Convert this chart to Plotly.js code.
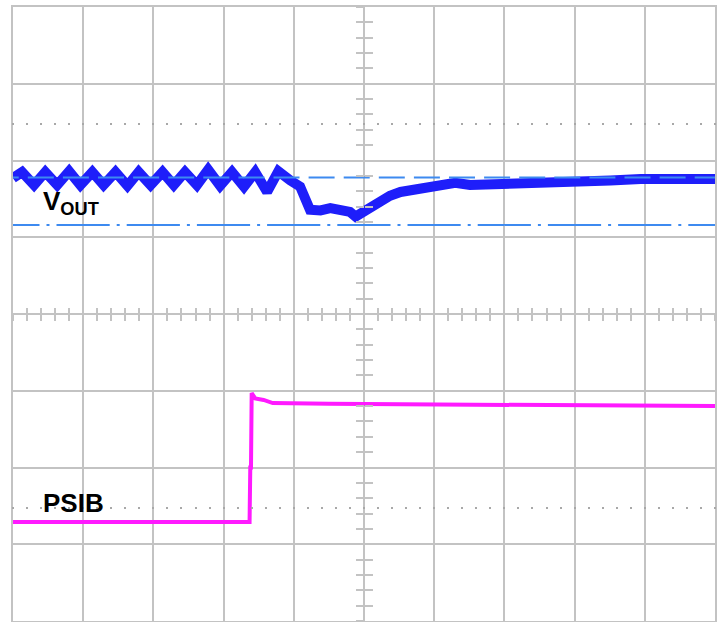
<!DOCTYPE html>
<html>
<head>
<meta charset="utf-8">
<script src="https://cdn.plot.ly/plotly-3.0.1.min.js"></script>
<style>html,body{margin:0;padding:0;background:#fff;}#chart{width:724px;height:622px;}</style>
</head>
<body>
<div id="chart"></div>
<script>
// time in divisions (10 div across), level in divisions (8 div tall)
const voutTime = [0.00, 0.13, 0.30, 0.46, 0.63, 0.80, 0.96, 1.13, 1.29, 1.46, 1.63, 1.79, 1.96, 2.13, 2.29, 2.45, 2.62, 2.78, 2.95, 3.12, 3.29, 3.45, 3.62, 3.78,
  3.95, 4.09, 4.23, 4.38, 4.52, 4.66, 4.80, 4.88, 4.95, 5.09, 5.23, 5.37, 5.52, 5.66, 5.80, 5.94, 6.30, 6.51, 6.94, 7.37, 7.80, 8.22, 8.51, 8.94, 9.51, 10.00];
const voutLevel = [5.77, 5.85, 5.68, 5.85, 5.68, 5.86, 5.68, 5.85, 5.68, 5.85, 5.67, 5.85, 5.68, 5.85, 5.68, 5.85, 5.68, 5.88, 5.67, 5.85, 5.66, 5.85, 5.59, 5.86,
  5.74, 5.66, 5.36, 5.35, 5.38, 5.37, 5.33, 5.27, 5.31, 5.40, 5.47, 5.54, 5.59, 5.61, 5.62, 5.65, 5.71, 5.68, 5.69, 5.69, 5.71, 5.72, 5.74, 5.76, 5.76, 5.76];

const psibTime = [0.00, 3.37, 3.38, 3.39, 3.40, 3.45, 3.57, 3.70, 4.50, 6.00, 8.00, 10.00];
const psibLevel = [1.29, 1.29, 2.00, 2.00, 2.97, 2.90, 2.88, 2.84, 2.83, 2.82, 2.81, 2.80];

const refTime = [0, 10];
const refHigh = [5.78, 5.78];
const refLow = [5.16, 5.16];

const psibMarkerTime = [-0.02];
const psibMarkerLevel = [2.19];

const labels = [
  {text: "<b>V<sub>OUT</sub></b>", x: 0.40, y: 5.45},
  {text: "<b>PSIB</b>", x: 0.40, y: 1.54}
];

const GRID = "#c3c3c3";
const BLUE = "#1e1efa";
const MAGENTA = "#ff1aff";
const REF = "#3d8af0";

const traces = [
  {x: voutTime, y: voutLevel, mode: "lines", line: {color: BLUE, width: 10}, hoverinfo: "skip", showlegend: false},
  {x: refTime, y: refHigh, mode: "lines", line: {color: REF, width: 2, dash: "5.7px,9.1px,20.3px,0px"}, hoverinfo: "skip", showlegend: false},
  {x: refTime, y: refLow, mode: "lines", line: {color: REF, width: 2, dash: "26.5px,7px,3px,7px,26.7px,0px"}, hoverinfo: "skip", showlegend: false},
  {x: psibTime, y: psibLevel, mode: "lines", line: {color: MAGENTA, width: 4}, hoverinfo: "skip", showlegend: false},
  {x: psibMarkerTime, y: psibMarkerLevel, mode: "markers", marker: {color: MAGENTA, symbol: "square", size: 3}, cliponaxis: false, hoverinfo: "skip", showlegend: false},
  // carriers for the decoration axes
  {x: [null], y: [null], xaxis: "x2", yaxis: "y", showlegend: false, hoverinfo: "skip"},
  {x: [null], y: [null], xaxis: "x3", yaxis: "y", showlegend: false, hoverinfo: "skip"},
  {x: [null], y: [null], xaxis: "x4", yaxis: "y", showlegend: false, hoverinfo: "skip"},
  {x: [null], y: [null], xaxis: "x5", yaxis: "y", showlegend: false, hoverinfo: "skip"},
  {x: [null], y: [null], xaxis: "x", yaxis: "y2", showlegend: false, hoverinfo: "skip"},
  {x: [null], y: [null], xaxis: "x", yaxis: "y3", showlegend: false, hoverinfo: "skip"}
];

function tickAxis(extra) {
  return Object.assign({
    range: [0, 10], showgrid: false, zeroline: false, showline: false, showticklabels: false,
    tick0: 0, dtick: 0.2, tickcolor: GRID, tickwidth: 2, fixedrange: true
  }, extra);
}

const layout = {
  width: 724, height: 622,
  margin: {l: 13, r: 9, t: 7, b: 1, pad: 0},
  paper_bgcolor: "#ffffff", plot_bgcolor: "#ffffff",
  showlegend: false,
  xaxis: {range: [0, 10], dtick: 1, tick0: 0, showgrid: true, gridcolor: GRID, gridwidth: 2,
    showline: true, mirror: true, linecolor: GRID, linewidth: 2, zeroline: false, showticklabels: false, ticks: "", fixedrange: true},
  yaxis: {range: [0, 8], dtick: 1, tick0: 0, showgrid: true, gridcolor: GRID, gridwidth: 2,
    showline: true, mirror: true, linecolor: GRID, linewidth: 2, zeroline: false, showticklabels: false, ticks: "", fixedrange: true},
  xaxis2: tickAxis({overlaying: "x", anchor: "free", position: 0.5, ticks: "outside", ticklen: 6}),
  xaxis3: tickAxis({overlaying: "x", anchor: "free", position: 0.5, ticks: "inside", ticklen: 6}),
  xaxis4: tickAxis({overlaying: "x", anchor: "free", position: 0.8125, ticks: "outside", ticklen: 2, tickcolor: "#a8a8a8"}),
  xaxis5: tickAxis({overlaying: "x", anchor: "free", position: 0.1875, ticks: "outside", ticklen: 2, tickcolor: "#a8a8a8"}),
  yaxis2: tickAxis({range: [0, 8], overlaying: "y", anchor: "free", position: 0.5, ticks: "outside", ticklen: 8}),
  yaxis3: tickAxis({range: [0, 8], overlaying: "y", anchor: "free", position: 0.5, ticks: "inside", ticklen: 8}),
  annotations: labels.map(l => ({
    text: l.text, x: l.x, y: l.y, xref: "x", yref: "y", xanchor: "left", yanchor: "middle",
    showarrow: false, font: {family: "Liberation Sans, Arial, sans-serif", size: 26, color: "#000000"}
  }))
};

Plotly.newPlot("chart", traces, layout, {displayModeBar: false, staticPlot: true});
</script>
</body>
</html>
